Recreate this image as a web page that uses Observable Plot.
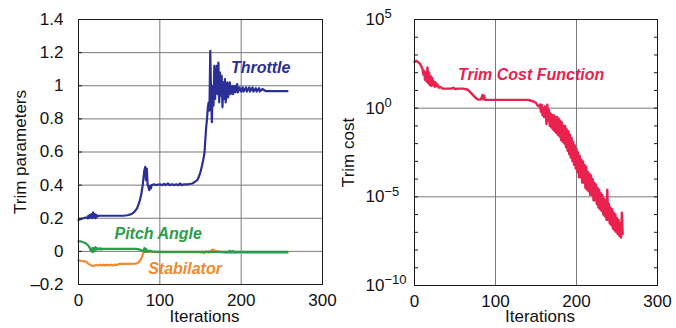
<!DOCTYPE html>
<html>
<head>
<meta charset="utf-8">
<script src="https://cdn.jsdelivr.net/npm/d3@7"></script>
<script src="https://cdn.jsdelivr.net/npm/@observablehq/plot@0.6"></script>
<style>
  html, body { margin: 0; padding: 0; background: #fff; }
  #wrap { position: relative; width: 676px; height: 328px; overflow: hidden; }
  #left, #right { position: absolute; top: 0; }
  #left { left: 0; }
  #right { left: 338px; }
</style>
</head>
<body>
<div id="wrap"><div id="left"></div><div id="right"></div></div>
<script>
// ---- Data ----
const xTicks = [0, 100, 200, 300];
const paramTicks = [-0.2, 0, 0.2, 0.4, 0.6, 0.8, 1, 1.2, 1.4];
const paramTickLabels = ["–0.2", "0", "0.2", "0.4", "0.6", "0.8", "1", "1.2", "1.4"];
const costTicks = [1e5, 1e0, 1e-5, 1e-10];
const costTickLabels = ["10⁵", "10⁰", "10⁻⁵", "10⁻¹⁰"];
const costTickBase = ["10", "10", "10", "10"];
const costTickExp = ["5", "0", "−5", "−10"];
const costMinorTicks = [1e5,1e4,1e3,1e2,1e1,1e0,1e-1,1e-2,1e-3,1e-4,1e-5,1e-6,1e-7,1e-8,1e-9,1e-10];
const xLabel = "Iterations";
const paramLabel = "Trim parameters";
const costLabel = "Trim cost";

// [iteration, value]
const throttle = [[0,0.19],[3,0.195],[6,0.2],[9,0.205],[11,0.2],[12,0.215],[13,0.2],[14,0.22],[15,0.205],[16,0.225],[17,0.2],[18,0.235],[19,0.205],[20,0.225],[21,0.2],[22,0.22],[23,0.21],[25,0.215],[30,0.215],[40,0.215],[55,0.215],[60,0.218],[65,0.225],[68,0.235],[72,0.26],[75,0.3],[77,0.34],[79,0.4],[80,0.45],[81,0.49],[82,0.51],[83,0.43],[84,0.5],[85,0.4],[86,0.39],[87,0.37],[88,0.395],[89,0.38],[90,0.4],[93,0.405],[95,0.4],[100,0.405],[103,0.4],[105,0.408],[107,0.4],[110,0.41],[112,0.4],[115,0.405],[118,0.4],[120,0.405],[123,0.4],[125,0.41],[127,0.4],[130,0.405],[135,0.405],[140,0.41],[143,0.42],[146,0.43],[148,0.45],[150,0.48],[152,0.52],[154,0.57],[155,0.6],[156,0.68],[157,0.75],[158,0.8],[159,0.87],[160,0.9],[161,0.85],[162,1.21],[163,0.95],[164,0.78],[165,1.0],[166,0.88],[167,1.12],[168,0.92],[169,1.05],[170,1.12],[171,0.95],[172,1.14],[173,0.9],[174,1.08],[175,0.94],[176,1.06],[177,0.87],[178,1.02],[179,0.92],[180,1.04],[181,0.9],[183,1.02],[184,0.93],[186,1.02],[187,0.95],[189,1.0],[190,0.95],[192,1.0],[193,0.96],[195,1.01],[196,0.96],[198,0.99],[200,0.965],[202,0.99],[203,0.965],[206,0.99],[207,0.965],[210,0.99],[211,0.965],[214,0.99],[215,0.965],[218,0.985],[219,0.965],[222,0.985],[223,0.965],[226,0.98],[230,0.968],[257,0.968]];

const pitchAngle = [[0,0.06],[3,0.06],[6,0.055],[8,0.05],[10,0.045],[12,0.035],[14,0.02],[15,0.005],[16,0.0],[17,0.02],[18,-0.005],[19,0.02],[20,0.005],[21,0.025],[22,0.01],[23,0.02],[25,0.012],[27,0.02],[28,0.012],[30,0.015],[40,0.015],[60,0.015],[70,0.015],[75,0.012],[78,0.005],[80,0.0],[81,0.02],[82,-0.005],[83,0.015],[85,-0.003],[87,0.005],[90,0.0],[95,-0.002],[100,-0.003],[150,-0.003],[185,-0.003],[186,0.004],[187,-0.005],[190,0.003],[191,-0.004],[195,-0.003],[257,-0.003]];

const stabilator = [[0,-0.055],[4,-0.058],[8,-0.06],[10,-0.065],[12,-0.075],[14,-0.08],[16,-0.085],[18,-0.088],[20,-0.085],[22,-0.082],[25,-0.085],[27,-0.08],[29,-0.085],[31,-0.08],[33,-0.085],[35,-0.08],[37,-0.085],[40,-0.08],[42,-0.085],[45,-0.08],[48,-0.082],[50,-0.075],[60,-0.075],[70,-0.074],[73,-0.07],[75,-0.06],[77,-0.045],[79,-0.02],[80,-0.005],[82,0.0],[85,-0.003],[100,-0.005],[150,-0.005],[155,-0.01],[157,0.0],[160,-0.008],[162,0.003],[165,0.01],[167,0.008],[168,-0.002],[172,0.0],[175,-0.005],[180,-0.008],[257,-0.008]];

// [iteration, log10(trim cost)]
const trimCostLog10 = [[0,2.6],[2,2.67],[4,2.6],[6,2.55],[8,2.4],[10,2.2],[11,1.9],[12,2.1],[13,1.6],[14,2.0],[15,1.5],[16,2.3],[17,1.4],[18,2.0],[19,1.3],[20,1.8],[21,1.25],[22,1.7],[23,1.3],[24,1.5],[25,1.2],[26,1.45],[27,1.25],[28,1.35],[30,1.15],[32,1.2],[35,1.1],[45,1.1],[48,1.15],[50,1.08],[55,1.1],[60,1.1],[65,1.05],[68,0.95],[72,0.75],[75,0.6],[78,0.5],[80,0.48],[82,0.5],[84,0.75],[85,0.5],[86,0.7],[87,0.47],[100,0.47],[120,0.47],[140,0.47],[144,0.42],[148,0.35],[150,0.3],[152,0.15],[154,0.1],[155,0.2],[156,-0.2],[157,0.2],[158,-0.4],[159,0.0],[160,-0.5],[161,0.1],[162,-0.3],[163,-0.9],[164,0.19],[165,-0.7],[166,-0.1],[167,-1.0],[168,-0.3],[169,-1.1],[170,-0.4],[171,-1.2],[172,-0.4],[173,-1.3],[174,-0.5],[175,-1.4],[176,-0.5],[177,-1.5],[178,-0.6],[179,-1.6],[180,-0.7],[181,-1.8],[182,-0.8],[183,-1.9],[184,-1.0],[185,-2.0],[186,-1.0],[187,-2.2],[188,-1.2],[189,-2.4],[190,-1.3],[191,-2.6],[192,-1.5],[193,-2.8],[194,-1.7],[195,-3.0],[196,-1.9],[197,-3.2],[198,-2.1],[199,-3.4],[200,-2.3],[201,-3.6],[202,-2.5],[203,-3.9],[204,-2.7],[205,-3.9],[206,-2.9],[207,-4.2],[208,-3.0],[209,-4.2],[210,-3.2],[211,-4.5],[212,-3.3],[213,-4.6],[214,-3.6],[215,-4.7],[216,-3.7],[217,-4.9],[218,-3.8],[219,-4.9],[220,-4.0],[221,-5.2],[222,-4.2],[223,-5.2],[224,-4.3],[225,-5.4],[226,-4.5],[227,-5.6],[228,-4.6],[229,-5.7],[230,-4.8],[231,-5.8],[232,-4.9],[233,-6.0],[234,-5.1],[235,-6.1],[236,-5.2],[237,-6.3],[238,-4.6],[239,-6.3],[240,-5.4],[241,-6.5],[242,-5.6],[243,-6.6],[244,-5.7],[245,-6.8],[246,-5.9],[247,-6.9],[248,-6.0],[249,-7.0],[250,-6.2],[251,-7.1],[252,-6.3],[253,-7.2],[254,-6.5],[255,-7.3],[256,-5.9],[257,-7.1]];

// Annotation labels [text, iteration, value, colour]
const paramLabels = [["Throttle", 224, 1.108, "#2b2f96"], ["Pitch Angle", 98, 0.106, "#2a9d48"], ["Stabilator", 131, -0.104, "#f08a2e"]];
const costLabels = [["Trim Cost Function", 144, 80, "#e8214f"]];

// ---- Styles ----
const C = { throttle: "#2b2f96", pitch: "#2a9d48", stab: "#f08a2e", cost: "#e8214f", grid: "#7a7a7a", frame: "#1a1a1a" };
const FONT = "Liberation Sans, Arial, Helvetica, sans-serif";
const baseStyle = { fontSize: "17px", fontFamily: FONT, color: "#111", background: "#fff", overflow: "visible" };
const annStyle = { fontSize: 16, fontWeight: "bold", fontStyle: "italic", fontFamily: FONT };

const toObj = a => a.map(([x, y]) => ({ x, y }));

const left = Plot.plot({
  width: 338, height: 328,
  marginLeft: 78, marginRight: 16, marginTop: 19, marginBottom: 44,
  style: baseStyle,
  x: { domain: [0, 300] },
  y: { domain: [-0.2, 1.4] },
  marks: [
    Plot.gridX(xTicks.slice(1, -1), { stroke: C.grid, strokeOpacity: 1 }),
    Plot.gridY(paramTicks.slice(1, -1), { stroke: C.grid, strokeOpacity: 1 }),
    Plot.line(toObj(throttle), { x: "x", y: "y", stroke: C.throttle, strokeWidth: 2.2 }),
    Plot.line(toObj(stabilator), { x: "x", y: "y", stroke: C.stab, strokeWidth: 2.2 }),
    Plot.line(toObj(pitchAngle), { x: "x", y: "y", stroke: C.pitch, strokeWidth: 2.2 }),
    Plot.text(paramLabels, { x: d => d[1], y: d => d[2], text: d => d[0], fill: d => d[3], ...annStyle }),
    Plot.axisY(paramTicks, { tickSize: 4, dx: 4, text: null, label: null, stroke: C.frame }),
    Plot.axisY(paramTicks, { tickSize: 0, tickPadding: 15, tickFormat: d => paramTickLabels[paramTicks.indexOf(d)], label: null }),
    Plot.axisX(xTicks, { tickSize: 0, tickPadding: 9, tickFormat: d => String(d), label: null }),
    Plot.text([paramLabel], { frameAnchor: "left", rotate: -90, dx: -58, textAnchor: "middle", lineAnchor: "middle", text: d => d }),
    Plot.text([xLabel], { frameAnchor: "bottom", dy: 32, dx: 4, textAnchor: "middle", lineAnchor: "middle", text: d => d }),
    Plot.frame({ stroke: C.frame })
  ]
});

const right = Plot.plot({
  width: 338, height: 328,
  marginLeft: 76, marginRight: 19, marginTop: 19, marginBottom: 43,
  style: baseStyle,
  x: { domain: [0, 300] },
  y: { type: "log", domain: [1e-10, 1e5] },
  marks: [
    Plot.gridX(xTicks.slice(1, -1), { stroke: C.grid, strokeOpacity: 1 }),
    Plot.gridY(costTicks.slice(1, -1), { stroke: C.grid, strokeOpacity: 1 }),
    Plot.line(trimCostLog10.map(([x, e]) => ({ x, y: Math.pow(10, e) })), { x: "x", y: "y", stroke: C.cost, strokeWidth: 2.4 }),
    Plot.text(costLabels, { x: d => d[1], y: d => d[2], text: d => d[0], fill: d => d[3], ...annStyle }),
    Plot.axisY(costMinorTicks, { tickSize: 4, dx: 4, text: null, label: null, stroke: C.frame }),
    Plot.axisY(costMinorTicks, { anchor: "right", tickSize: 4, dx: -4, text: null, label: null, stroke: C.frame }),
    Plot.axisY(costTicks, { tickSize: 0, tickPadding: 49, textAnchor: "start", tickFormat: d => costTickLabels[costTicks.indexOf(d)], label: null }),
    Plot.axisX(xTicks, { tickSize: 0, tickPadding: 9, tickFormat: d => String(d), label: null }),
    Plot.text([costLabel], { frameAnchor: "left", rotate: -90, dx: -66, textAnchor: "middle", lineAnchor: "middle", text: d => d }),
    Plot.text([xLabel], { frameAnchor: "bottom", dy: 31, dx: 4, textAnchor: "middle", lineAnchor: "middle", text: d => d }),
    Plot.frame({ stroke: C.frame })
  ]
});

// Render exponents of the log-axis tick labels as raised tspans
right.querySelectorAll("text").forEach(t => {
  const i = costTickLabels.indexOf(t.textContent);
  if (i < 0) return;
  while (t.firstChild) t.removeChild(t.firstChild);
  t.appendChild(document.createTextNode(costTickBase[i]));
  const sup = document.createElementNS("http://www.w3.org/2000/svg", "tspan");
  sup.setAttribute("dy", "-0.5em");
  sup.setAttribute("font-size", "13px");
  sup.textContent = costTickExp[i];
  t.appendChild(sup);
});

document.getElementById("left").appendChild(left);
document.getElementById("right").appendChild(right);
</script>
</body>
</html>
